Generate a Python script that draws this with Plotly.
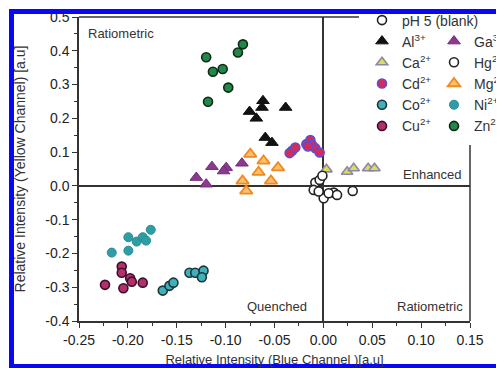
import plotly.graph_objects as go

# ---------------- data ----------------
blank_x = [-0.0082, -0.0038, -0.0099, 0.0003, 0.0106]
blank_y = [0.0098, 0.0178, -0.0119, -0.0365, -0.0198]
hg_x = [-0.0048, 0.0054, 0.0140, 0.0300, -0.0010]
hg_y = [-0.0168, -0.0217, -0.0267, -0.0148, 0.0300]

al_x = [-0.0618, -0.0628, -0.0755, -0.0686, -0.0386, -0.0594, -0.0526]
al_y = [0.252, 0.232, 0.220, 0.200, 0.232, 0.143, 0.128]

ga_x = [-0.130, -0.1199, -0.114, -0.0994, -0.1021, -0.0833]
ga_y = [0.0247, 0.005, 0.057, 0.054, 0.044, 0.067]

ca_x = [0.0031, 0.0243, 0.0310, 0.0458, 0.0523]
ca_y = [0.049, 0.042, 0.052, 0.052, 0.052]

cd_x = [-0.0320, -0.0287, -0.0174, -0.0133, -0.0116, -0.0082, -0.0038, -0.0157, -0.0345]
cd_y = [0.104, 0.1135, 0.1235, 0.136, 0.1215, 0.1117, 0.0987, 0.1165, 0.097]

mg_x = [-0.0748, -0.0612, -0.0464, -0.0663, -0.0827, -0.0536, -0.0789]
mg_y = [0.094, 0.074, 0.054, 0.0405, 0.0148, 0.0148, -0.0148]

co_x = [-0.1643, -0.1575, -0.1534, -0.1370, -0.1311, -0.1226, -0.1243]
co_y = [-0.310, -0.296, -0.2865, -0.257, -0.257, -0.251, -0.2705]

ni_x = [-0.2165, -0.1995, -0.1995, -0.1910, -0.1848, -0.1814, -0.1766]
ni_y = [-0.1975, -0.152, -0.1917, -0.165, -0.152, -0.162, -0.130]

cu_x = [-0.2234, -0.2063, -0.2063, -0.2046, -0.1977, -0.1960, -0.1848]
cu_y = [-0.293, -0.239, -0.257, -0.303, -0.2735, -0.2835, -0.2865]

zn_x = [-0.1199, -0.1130, -0.1030, -0.0973, -0.0874, -0.0823, -0.1180]
zn_y = [0.381, 0.338, 0.346, 0.291, 0.395, 0.419, 0.249]

x_ticks = [-0.25, -0.20, -0.15, -0.10, -0.05, 0.00, 0.05, 0.10, 0.15]
y_ticks = [-0.4, -0.3, -0.2, -0.1, 0.0, 0.1, 0.2, 0.3, 0.4, 0.5]

# ---------------- figure ----------------
OFF = 8                      # page offset of the figure (body margin)
W, H = 496, 360
ML, MR, MT, MB = 71, 34, 9, 47
PW, PH = W - ML - MR, H - MT - MB


def px(xp):                  # page pixel -> paper x
    return (xp - OFF - ML) / PW


def py(yp):                  # page pixel -> paper y
    return (H - MB - (yp - OFF)) / PH


fig = go.Figure()


def add(name, xs, ys, symbol, size, fill, line, lw, legend):
    fig.add_trace(go.Scatter(
        x=xs, y=ys, mode="markers", name=name, legend=legend,
        marker=dict(symbol=symbol, size=size, color=fill,
                    line=dict(color=line, width=lw)),
        cliponaxis=False,
    ))


add("pH 5 (blank)", blank_x, blank_y, "circle", 9, "white", "#222222", 1.6, "legend")
add("Al<sup>3+</sup>", al_x, al_y, "triangle-up", 11, "#111111", "#111111", 1, "legend2")
add("Ca<sup>2+</sup>", ca_x, ca_y, "triangle-up", 10, "#d6df5a", "#8e86a8", 1.6, "legend2")
add("Cd<sup>2+</sup>", cd_x, cd_y, "circle", 9, "#d62a5a", "#5a4fd0", 1.6, "legend2")
add("Co<sup>2+</sup>", co_x, co_y, "circle", 9, "#3fb0bc", "#1b3438", 1.6, "legend2")
add("Cu<sup>2+</sup>", cu_x, cu_y, "circle", 9, "#b3306c", "#3a1028", 1.6, "legend2")
add("Ga<sup>3+</sup>", ga_x, ga_y, "triangle-up", 11, "#8e3a8c", "#6e2a78", 1, "legend3")
add("Hg<sup>2+</sup>", hg_x, hg_y, "circle", 9, "white", "#222222", 1.6, "legend3")
add("Mg<sup>2+</sup>", mg_x, mg_y, "triangle-up", 11, "#f8c070", "#f08a1e", 1.8, "legend3")
add("Ni<sup>2+</sup>", ni_x, ni_y, "circle", 9, "#2e9ea6", "#2a8a92", 1.0, "legend3")
add("Zn<sup>2+</sup>", zn_x, zn_y, "circle", 9, "#24874a", "#0e2a16", 1.6, "legend3")

axis_common = dict(
    showgrid=False, showline=True, linecolor="#333333", linewidth=1.5,
    ticks="outside", ticklen=5, tickwidth=1.3, tickcolor="#333333",
    tickfont=dict(family="Liberation Sans, Arial", size=14, color="#222222"),
    zeroline=True, zerolinecolor="#333333", zerolinewidth=1.5,
    mirror=False,
)

fig.update_xaxes(
    range=[-0.25, 0.15], tickvals=x_ticks,
    ticktext=[f"{v:.2f}" for v in x_ticks],
    minor=dict(dtick=0.025, ticklen=3, tickwidth=1.3, tickcolor="#333333", ticks="outside"),
    title=dict(text="Relative Intensity (Blue Channel )[a.u]",
               font=dict(family="Liberation Sans, Arial", size=13, color="#333333"),
               standoff=8),
    **axis_common,
)
fig.update_yaxes(
    range=[-0.4, 0.5], tickvals=y_ticks,
    ticktext=[f"{v:.1f}" for v in y_ticks],
    minor=dict(dtick=0.05, ticklen=3, tickwidth=1.3, tickcolor="#333333", ticks="outside"),
    title=dict(text="Relative Intensity (Yellow Channel) [a.u]",
               font=dict(family="Liberation Sans, Arial", size=14, color="#333333"),
               standoff=16),
    **axis_common,
)

leg_font = dict(family="Liberation Sans, Arial", size=14, color="#333333")
leg_common = dict(font=leg_font, bgcolor="rgba(0,0,0,0)", borderwidth=0,
                  orientation="v", xanchor="left", yanchor="top",
                  tracegroupgap=0, itemclick=False, itemdoubleclick=False)

fig.update_layout(
    width=W, height=H,
    margin=dict(l=ML, r=MR, t=MT, b=MB, autoexpand=False),
    paper_bgcolor="white", plot_bgcolor="white",
    showlegend=True,
    legend=dict(x=px(362), y=py(4.5), **leg_common),
    legend2=dict(x=px(362), y=py(25.5), **leg_common),
    legend3=dict(x=px(434), y=py(25.5), **leg_common),
)

ann_font = dict(family="Liberation Sans, Arial", size=13, color="#333333")
for text, xp, yp, anchor in [("Ratiometric", 86, 33, "left"),
                             ("Enhanced", 464, 174, "right"),
                             ("Quenched", 309, 306, "right"),
                             ("Ratiometric", 465, 306, "right")]:
    fig.add_annotation(text=text, xref="paper", yref="paper", x=px(xp), y=py(yp),
                       xanchor=anchor, yanchor="middle", showarrow=False, font=ann_font)

# frame: partial top and right axis lines (legend area left open)
fig.add_shape(type="line", xref="paper", yref="paper", x0=0, x1=px(359), y0=1, y1=1,
              line=dict(color="#333333", width=1.5))
fig.add_shape(type="line", xref="paper", yref="paper", x0=1, x1=1, y0=0, y1=py(145),
              line=dict(color="#333333", width=1.5))

# blue picture border
blue = "#0808f2"
for x0, x1, y0, y1 in [(9, 14, 9, 368), (9, 504, 9, 14), (500, 504, 9, 368), (9, 504, 364, 368)]:
    fig.add_shape(type="rect", xref="paper", yref="paper",
                  x0=px(x0), x1=px(x1), y0=py(y1), y1=py(y0),
                  fillcolor=blue, line=dict(width=0), layer="above")

fig.write_html("out.html")
